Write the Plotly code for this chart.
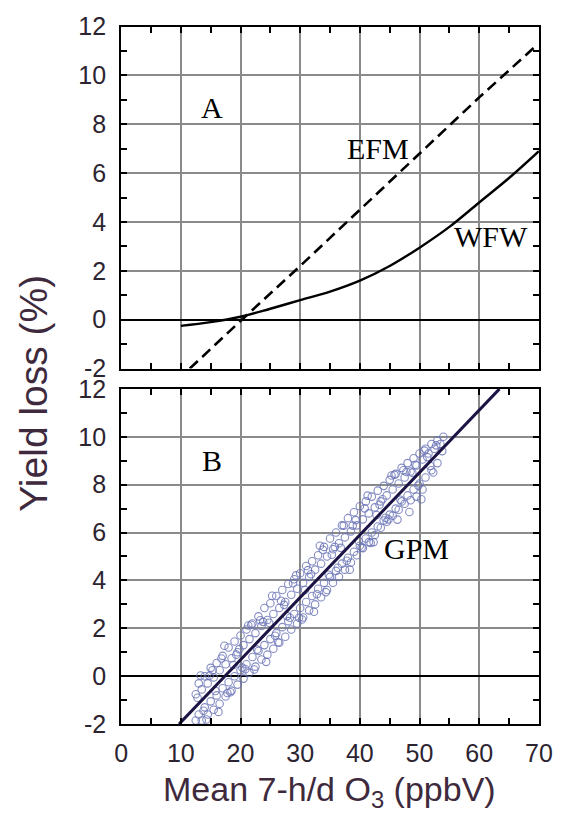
import plotly.graph_objects as go

# ---------------- data ----------------
x_ticks = [0, 10, 20, 30, 40, 50, 60, 70]
x_tick_labels = ["0", "10", "20", "30", "40", "50", "60", "70"]
y_ticks = [-2, 0, 2, 4, 6, 8, 10, 12]
y_tick_labels = ["-2", "0", "2", "4", "6", "8", "10", "12"]

# Panel A
efm_x = [11.5, 20, 30, 40, 50, 60, 69.7]
efm_y = [-2.0, -0.05, 2.2, 4.5, 6.8, 9.1, 11.25]
wfw_x = [10, 15, 20, 25, 30, 35, 40, 45, 50, 55, 60, 65, 70]
wfw_y = [-0.25, -0.1, 0.12, 0.45, 0.8, 1.15, 1.6, 2.2, 2.95, 3.8, 4.8, 5.8, 6.9]

# Panel B
gpm_x = [9.7, 20, 30, 40, 50, 63.4]
gpm_y = [-2.0, 0.68, 3.29, 5.9, 8.51, 12.0]

obs_upper_x = [13, 14, 15, 16, 17, 18, 19, 20, 21, 22, 23, 24, 25, 26, 27, 28, 29, 30, 31, 32, 33,
               34, 35, 36, 37, 38, 39, 40, 41, 42, 43, 44, 45, 46, 47, 48, 49, 50, 51, 52, 53, 54]
obs_upper_y = [-0.3, 0.0, 0.35, 0.55, 0.85, 1.2, 1.45, 1.7, 1.95, 2.2, 2.5, 2.85, 3.05, 3.35, 3.6,
               3.85, 4.05, 4.3, 4.6, 4.8, 5.05, 5.4, 5.75, 6.0, 6.3, 6.6, 6.85, 7.1, 7.3, 7.5, 7.75,
               7.95, 8.2, 8.45, 8.7, 8.9, 9.1, 9.3, 9.5, 9.7, 9.85, 10.0]
obs_mid_x = [12.5, 13.5, 14.5, 15.5, 16.5, 17.5, 18.5, 19.5, 20.5, 21.5, 22.5, 23.5, 24.5, 25.5,
             26.5, 27.5, 28.5, 29.5, 30.5, 31.5, 32.5, 33.5, 34.5, 35.5, 36.5, 37.5, 38.5, 39.5,
             40.5, 41.5, 42.5, 43.5, 44.5, 45.5, 46.5, 47.5, 48.5, 49.5, 50.5, 51.5, 52.5, 53.5]
obs_mid_y = [-0.75, -0.55, -0.3, -0.05, 0.25, 0.5, 0.75, 1.0, 1.3, 1.55, 1.8, 2.1, 2.35, 2.6, 2.85,
             3.1, 3.4, 3.65, 3.9, 4.15, 4.45, 4.7, 5.0, 5.3, 5.55, 5.8, 6.05, 6.3, 6.55, 6.8, 7.05,
             7.3, 7.55, 7.8, 8.05, 8.3, 8.55, 8.8, 9.05, 9.3, 9.5, 9.7]
obs_low_x = [13, 14, 15, 16, 17, 18, 19, 20, 21, 22, 23, 24, 25, 26, 27, 28, 29, 30, 31, 32, 33,
             34, 35, 36, 37, 38, 39, 40, 41, 42, 43, 44, 45, 46, 47, 48, 49, 50, 51, 52, 53]
obs_low_y = [-1.6, -1.3, -1.05, -0.8, -0.5, -0.25, 0.0, 0.25, 0.5, 0.8, 1.05, 1.3, 1.55, 1.8, 2.05,
             2.3, 2.6, 2.85, 3.1, 3.35, 3.65, 3.9, 4.15, 4.4, 4.7, 4.95, 5.2, 5.45, 5.75, 6.0, 6.25,
             6.5, 6.75, 7.0, 7.3, 7.55, 7.8, 8.05, 8.3, 8.6, 8.9]
obs_bottom_x = [12.5, 13.5, 14.5, 15.5, 16.5, 17.5, 18.5, 19.5, 20.5, 21.5, 22.5, 23.5, 24.5, 25.5,
                26.5, 27.5, 28.5, 29.5, 30.5, 31.5, 32.5, 33.5, 34.5, 35.5, 36.5, 37.5, 38.5, 39.5,
                40.5, 41.5, 42.5, 43.5, 44.5, 45.5, 46.5, 47.5, 48.5, 49.5, 50.5]
obs_bottom_y = [-1.85, -1.85, -1.6, -1.4, -1.15, -0.85, -0.6, -0.35, -0.1, 0.15, 0.4, 0.7, 0.9,
                1.15, 1.4, 1.65, 1.95, 2.2, 2.45, 2.75, 3.0, 3.3, 3.6, 3.9, 4.15, 4.45, 4.75, 5.05,
                5.35, 5.6, 5.9, 6.2, 6.45, 6.7, 6.95, 7.2, 7.35, 7.5, 7.8]
obs_scat1_x = [12.8, 13.8, 14.8, 15.8, 16.8, 17.8, 18.8, 19.8, 20.8, 21.8, 22.8, 23.8, 24.8, 25.8,
               26.8, 27.8, 28.8, 29.8, 30.8, 31.8, 32.8, 33.8, 34.8, 35.8, 36.8, 37.8, 38.8, 39.8,
               40.8, 41.8, 42.8, 43.8, 44.8, 45.8, 46.8, 47.8, 48.8, 49.8, 50.8, 51.8, 52.8, 53.8]
obs_scat1_y = [-0.9, -1.44, 0.02, -0.62, 0.74, -0.7, 0.47, 1.13, 0.29, 2.15, 1.11, 2.27, 2.23, 1.69,
               3.15, 2.51, 3.88, 2.44, 3.6, 4.26, 3.42, 5.28, 4.24, 5.4, 5.36, 4.82, 6.29, 5.65,
               7.01, 5.57, 6.73, 7.39, 6.55, 8.41, 7.37, 8.53, 8.5, 7.96, 9.42, 8.78, 9.64, 9.4]
obs_scat2_x = [13.3, 14.3, 15.3, 16.3, 17.3, 18.3, 19.3, 20.3, 21.3, 22.3, 23.3, 24.3, 25.3, 26.3,
               27.3, 28.3, 29.3, 30.3, 31.3, 32.3, 33.3, 34.3, 35.3, 36.3, 37.3, 38.3, 39.3, 40.3,
               41.3, 42.3, 43.3, 44.3, 45.3, 46.3, 47.3, 48.3, 49.3, 50.3, 51.3, 52.3]
obs_scat2_y = [0.03, -1.81, 0.25, -1.49, 1.27, -0.67, 0.9, 0.36, 2.12, 0.28, 2.34, 0.6, 3.36, 1.42,
               2.98, 2.44, 4.21, 2.37, 4.43, 2.69, 5.45, 3.51, 5.07, 4.53, 6.29, 4.45, 6.52, 5.38,
               7.54, 5.6, 7.16, 6.62, 8.38, 6.54, 8.6, 6.86, 8.83, 7.39, 9.15, 8.51]

obs_x = obs_upper_x + obs_mid_x + obs_low_x + obs_bottom_x + obs_scat1_x + obs_scat2_x
obs_y = obs_upper_y + obs_mid_y + obs_low_y + obs_bottom_y + obs_scat1_y + obs_scat2_y

# ---------------- figure ----------------
W, H = 576, 827
TXT = "#2c2430"
TITLE_C = "#3e2a3c"
GRID = "#8a8a8a"

fig = go.Figure()

fig.add_trace(go.Scatter(x=efm_x, y=efm_y, mode="lines", xaxis="x", yaxis="y",
                         line=dict(color="black", width=2.6, dash="11px,6px"), showlegend=False))
fig.add_trace(go.Scatter(x=wfw_x, y=wfw_y, mode="lines", xaxis="x", yaxis="y",
                         line=dict(color="black", width=2.4, shape="spline"), showlegend=False))

fig.add_trace(go.Scatter(x=obs_x, y=obs_y, mode="markers", xaxis="x2", yaxis="y2",
                         marker=dict(symbol="circle-open", size=7.5,
                                     color="rgba(105,115,182,0.82)",
                                     line=dict(width=1.1)), showlegend=False))
fig.add_trace(go.Scatter(x=gpm_x, y=gpm_y, mode="lines", xaxis="x2", yaxis="y2",
                         line=dict(color="#1c1445", width=3), showlegend=False))

x_dom = [118.5 / W, 552 / W]
yA_dom = [1 - 367 / H, 1 - 13 / H]
yB_dom = [1 - 735 / H, 1 - 388 / H]

tickfont = dict(family="Liberation Sans, Arial", size=25, color=TXT)
common_x = dict(range=[0, 70], tickvals=x_ticks, ticktext=x_tick_labels,
                showgrid=True, gridcolor=GRID, gridwidth=1.6,
                zeroline=False, showline=True, linecolor="black", linewidth=2, mirror="allticks",
                ticks="inside", ticklen=6, tickcolor="black", tickwidth=1.5,
                minor=dict(dtick=5, tick0=0, ticks="inside", ticklen=6, tickcolor="black",
                           tickwidth=1.5, showgrid=False),
                tickfont=tickfont, domain=x_dom, fixedrange=True)
common_y = dict(range=[-2, 12], tickvals=y_ticks, ticktext=y_tick_labels,
                showgrid=True, gridcolor=GRID, gridwidth=1.6,
                zeroline=True, zerolinecolor="black", zerolinewidth=2,
                showline=True, linecolor="black", linewidth=2, mirror="allticks",
                ticks="inside", ticklen=6, tickcolor="black", tickwidth=1.5,
                minor=dict(dtick=1, tick0=0, ticks="inside", ticklen=6, tickcolor="black",
                           tickwidth=1.5, showgrid=False),
                tickfont=tickfont, ticklabelstandoff=8, fixedrange=True)

fig.update_layout(
    width=W, height=H, margin=dict(l=0, r=0, t=0, b=0),
    paper_bgcolor="white", plot_bgcolor="white",
    xaxis=dict(common_x, anchor="y", showticklabels=False),
    yaxis=dict(common_y, domain=yA_dom, anchor="x"),
    xaxis2=dict(common_x, anchor="y2", showticklabels=True, ticklabelstandoff=6),
    yaxis2=dict(common_y, domain=yB_dom, anchor="x2"),
)

serif = dict(family="Liberation Serif, Times New Roman", size=30, color="black")
annots = [
    dict(x=15.3, y=8.7, xref="x", yref="y", text="A", showarrow=False, font=serif),
    dict(x=43.0, y=7.0, xref="x", yref="y", text="EFM", showarrow=False, font=serif),
    dict(x=62.0, y=3.4, xref="x", yref="y", text="WFW", showarrow=False, font=serif),
    dict(x=15.3, y=9.0, xref="x2", yref="y2", text="B", showarrow=False, font=serif),
    dict(x=49.5, y=5.35, xref="x2", yref="y2", text="GPM", showarrow=False, font=serif),
    dict(x=28 / W, y=1 - 392 / H, xref="paper", yref="paper", text="Yield loss (%)",
         textangle=-90, showarrow=False, xanchor="center", yanchor="middle",
         font=dict(family="Liberation Sans, Arial", size=39, color=TITLE_C)),
    dict(x=335 / W, y=1 - 805 / H, xref="paper", yref="paper",
         text="Mean 7-h/d O<sub>3</sub> (ppbV)", showarrow=False,
         xanchor="center", yanchor="middle",
         font=dict(family="Liberation Sans, Arial", size=34, color=TITLE_C)),
]
fig.update_layout(annotations=annots)

fig.write_html("out.html")
